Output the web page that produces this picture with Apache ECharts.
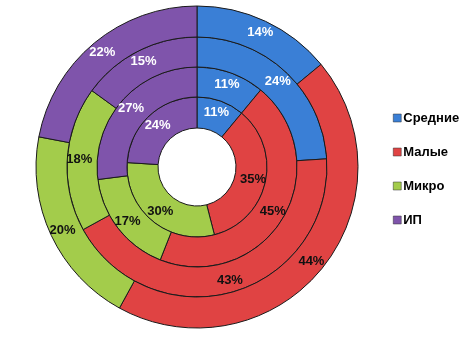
<!DOCTYPE html>
<html><head><meta charset="utf-8">
<script src="https://cdn.jsdelivr.net/npm/echarts@6/dist/echarts.min.js"></script>
<style>html,body{margin:0;padding:0;background:#fff}#c{width:467px;height:346px}</style>
</head><body><div id="c"></div>
<script>
const categories = ['Средние', 'Малые', 'Микро', 'ИП'];
const ring1 = [11, 35, 30, 24];
const ring2 = [11, 45, 17, 27];
const ring3 = [24, 43, 18, 15];
const ring4 = [14, 44, 20, 22];
const colors = ['#3a7fd6', '#e04343', '#a3cc4b', '#7f54ab'];
const labelColors = ['#ffffff', '#111111', '#111111', '#ffffff'];
const rings = [ring1, ring2, ring3, ring4];
const radii = [[39, 70], [70, 100], [100, 130], [130, 161]];

const chart = echarts.init(document.getElementById('c'));
const series = rings.map((vals, r) => ({
  type: 'pie',
  center: [197, 167],
  radius: radii[r],
  startAngle: 90,
  clockwise: true,
  silent: true,
  animation: false,
  avoidLabelOverlap: false,
  itemStyle: { borderColor: '#1a1a1a', borderWidth: 1 },
  label: {
    show: true, position: 'inside', formatter: '{c}%',
    fontFamily: 'Liberation Sans, Arial, sans-serif', fontWeight: 'bold', fontSize: 13
  },
  labelLine: { show: false },
  data: vals.map((v, i) => ({
    name: categories[i], value: v,
    itemStyle: { color: colors[i] },
    label: { color: labelColors[i] }
  }))
}));

chart.setOption({
  animation: false,
  color: colors,
  legend: {
    orient: 'vertical', left: 388, top: 106,
    icon: 'rect', itemWidth: 8, itemHeight: 8, itemGap: 20,
    data: categories,
    itemStyle: { borderColor: '#333', borderWidth: 0.5 },
    textStyle: { fontFamily: 'Liberation Sans, Arial, sans-serif', fontWeight: 'bold', fontSize: 13, color: '#000', lineHeight: 14, padding: [0, 0, 0, -3] }
  },
  series: series
});
</script></body></html>
